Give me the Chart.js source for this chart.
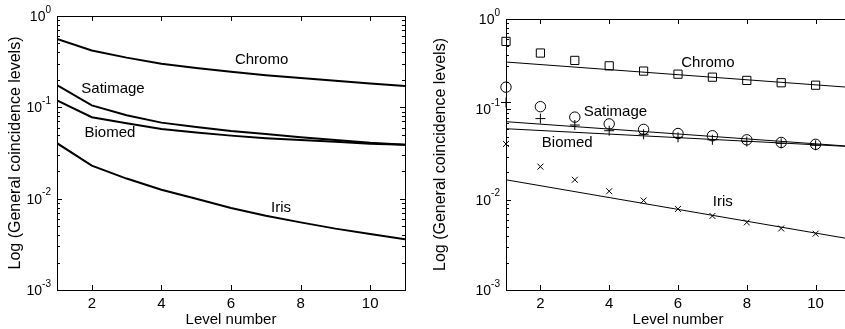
<!DOCTYPE html>
<html>
<head>
<meta charset="utf-8">
<script src="https://cdn.jsdelivr.net/npm/chart.js@4.4.0/dist/chart.umd.min.js"></script>
<style>
  html, body { margin: 0; padding: 0; background: #fff; }
  #wrap { position: relative; width: 845px; height: 329px; overflow: hidden; background: #fff; }
  #left { position: absolute; left: 0; top: 0; }
  #right { position: absolute; left: 425px; top: 0; }
</style>
</head>
<body>
<div id="wrap">
  <canvas id="left" width="420" height="329"></canvas>
  <canvas id="right" width="440" height="329"></canvas>
</div>
<script>
// niveaux (axe x)
const levels = [1, 2, 3, 4, 5, 6, 7, 8, 9, 10, 11];
const xTickValues = [2, 4, 6, 8, 10];
const yTickExponents = [0, -1, -2, -3];

// panneau gauche : courbes
const chromo = [0.56, 0.42, 0.35, 0.30, 0.27, 0.245, 0.225, 0.21, 0.195, 0.182, 0.171];
const satimage = [0.175, 0.105, 0.082, 0.068, 0.061, 0.055, 0.051, 0.047, 0.044, 0.041, 0.039];
const biomed = [0.119, 0.078, 0.067, 0.058, 0.053, 0.049, 0.046, 0.044, 0.042, 0.040, 0.039];
const iris = [0.0405, 0.023, 0.0166, 0.0125, 0.0100, 0.0079, 0.0065, 0.0055, 0.0047, 0.0041, 0.0036];

// panneau droit : points mesurés (niveaux 1..10)
const pointLevels = [1, 2, 3, 4, 5, 6, 7, 8, 9, 10];
const chromoPts = [0.565, 0.42, 0.348, 0.303, 0.265, 0.245, 0.227, 0.209, 0.197, 0.185];
const satimagePts = [0.176, 0.107, 0.082, 0.069, 0.060, 0.054, 0.051, 0.046, 0.043, 0.041];
const biomedPts = [0.119, 0.079, 0.067, 0.058, 0.053, 0.049, 0.046, 0.044, 0.042, 0.040];
const irisPts = [0.0414, 0.0232, 0.0166, 0.0124, 0.0098, 0.0079, 0.0066, 0.0056, 0.0048, 0.0042];

// droites d'ajustement (valeurs aux niveaux 1 et 11)
const fitLevels = [1, 11];
const chromoFit = [0.334, 0.175];
const satimageFit = [0.073, 0.039];
const biomedFit = [0.061, 0.0387];
const irisFit = [0.0166, 0.00367];

// étiquettes dans le graphe : [texte, x, y] en unités de données
const leftLabels = [['Chromo', 6.88, 0.33], ['Satimage', 2.61, 0.158], ['Biomed', 2.52, 0.052], ['Iris', 7.44, 0.0079]];
const rightLabels = [['Chromo', 6.87, 0.33], ['Satimage', 4.18, 0.0946], ['Biomed', 2.78, 0.0428], ['Iris', 7.30, 0.0094]];

const FONT = 'Liberation Sans, Arial, Helvetica, sans-serif';

function toXY(xs, ys) {
  return ys.map((v, i) => ({ x: xs[i], y: v }));
}

// cadre façon MATLAB : ticks vers l'intérieur sur les 4 côtés + labels 10^n
const framePlugin = {
  id: 'frame',
  afterDraw(chart) {
    const ctx = chart.ctx;
    const a = chart.chartArea;
    const x = chart.scales.x, y = chart.scales.y;
    ctx.save();
    ctx.strokeStyle = '#000';
    ctx.lineWidth = 1;
    ctx.strokeRect(Math.round(a.left) + 0.5, Math.round(a.top) + 0.5, Math.round(a.right - a.left), Math.round(a.bottom - a.top));
    ctx.beginPath();
    xTickValues.forEach(v => {
      const px = Math.round(x.getPixelForValue(v)) + 0.5;
      ctx.moveTo(px, a.bottom); ctx.lineTo(px, a.bottom - 5);
      ctx.moveTo(px, a.top); ctx.lineTo(px, a.top + 5);
    });
    for (let e = -3; e <= 0; e++) {
      for (let m = 1; m <= 9; m++) {
        const v = m * Math.pow(10, e);
        if (v > 1) break;
        const py = Math.round(y.getPixelForValue(v)) + 0.5;
        const len = m === 1 ? 5 : 3;
        ctx.moveTo(a.left, py); ctx.lineTo(a.left + len, py);
        ctx.moveTo(a.right, py); ctx.lineTo(a.right - len, py);
      }
    }
    ctx.stroke();

    ctx.fillStyle = '#000';
    ctx.textBaseline = 'middle';
    yTickExponents.forEach(e => {
      const py = y.getPixelForValue(Math.pow(10, e));
      ctx.font = '14px ' + FONT;
      const base = '10';
      const wb = ctx.measureText(base).width;
      ctx.font = '10px ' + FONT;
      const sup = e === 0 ? '0' : '-' + (-e);
      const ws = ctx.measureText(sup).width;
      const end = a.left - 6;
      ctx.textAlign = 'left';
      ctx.font = '14px ' + FONT;
      ctx.fillText(base, end - ws - wb, py + 1);
      ctx.font = '10px ' + FONT;
      ctx.fillText(sup, end - ws, py - 6);
    });

    const labels = chart.options.plugins.frame.labels;
    ctx.font = '15px ' + FONT;
    ctx.textAlign = 'center';
    labels.forEach(l => {
      ctx.fillText(l[0], x.getPixelForValue(l[1]), y.getPixelForValue(l[2]));
    });
    ctx.restore();
  }
};

function makeOptions(yWidth, top, labels) {
  return {
    responsive: false,
    animation: false,
    devicePixelRatio: 1,
    layout: { padding: { left: 0, top: top, right: 15, bottom: 0 } },
    plugins: { legend: { display: false }, tooltip: { enabled: false }, frame: { labels: labels } },
    scales: {
      x: {
        type: 'linear', min: 1, max: 11,
        grid: { display: false, drawTicks: false },
        border: { display: false },
        afterBuildTicks: s => { s.ticks = xTickValues.map(v => ({ value: v })); },
        afterFit: s => { s.height = 39; },
        ticks: { color: '#000', padding: 5, maxRotation: 0, font: { family: FONT, size: 15 } },
        title: { display: true, text: 'Level number', color: '#000', padding: { top: 0, bottom: 0 }, font: { family: FONT, size: 15 } }
      },
      y: {
        type: 'logarithmic', min: 0.001, max: 1,
        grid: { display: false },
        border: { display: false },
        ticks: { display: false },
        afterFit: s => { s.width = yWidth; },
        title: { display: true, text: 'Log (General coincidence levels)', color: '#000', padding: { top: 6, bottom: 0 }, font: { family: FONT, size: 16 } }
      }
    }
  };
}

function lineSet(data) {
  return { data: data, showLine: true, borderColor: '#000', borderWidth: 2, pointRadius: 0, fill: false, tension: 0 };
}

new Chart(document.getElementById('left'), {
  type: 'scatter',
  data: {
    datasets: [
      lineSet(toXY(levels, chromo)),
      lineSet(toXY(levels, satimage)),
      lineSet(toXY(levels, biomed)),
      lineSet(toXY(levels, iris))
    ]
  },
  options: makeOptions(57, 16, leftLabels),
  plugins: [framePlugin]
});

function markerSet(data, style, r) {
  return { data: data, showLine: false, clip: false, pointStyle: style, pointRadius: r, pointBorderColor: '#000', pointBackgroundColor: 'rgba(0,0,0,0)', pointBorderWidth: 1 };
}
function fitSet(data) {
  return { data: data, showLine: true, borderColor: '#000', borderWidth: 1, pointRadius: 0, fill: false };
}

new Chart(document.getElementById('right'), {
  type: 'scatter',
  data: {
    datasets: [
      fitSet(toXY(fitLevels, chromoFit)),
      fitSet(toXY(fitLevels, satimageFit)),
      fitSet(toXY(fitLevels, biomedFit)),
      fitSet(toXY(fitLevels, irisFit)),
      markerSet(toXY(pointLevels, chromoPts), 'rect', 5.8),
      markerSet(toXY(pointLevels, satimagePts), 'circle', 5.2),
      markerSet(toXY(pointLevels, biomedPts), 'cross', 5),
      markerSet(toXY(pointLevels, irisPts), 'crossRot', 4.2)
    ]
  },
  options: makeOptions(81, 19, rightLabels),
  plugins: [framePlugin]
});
</script>
</body>
</html>
